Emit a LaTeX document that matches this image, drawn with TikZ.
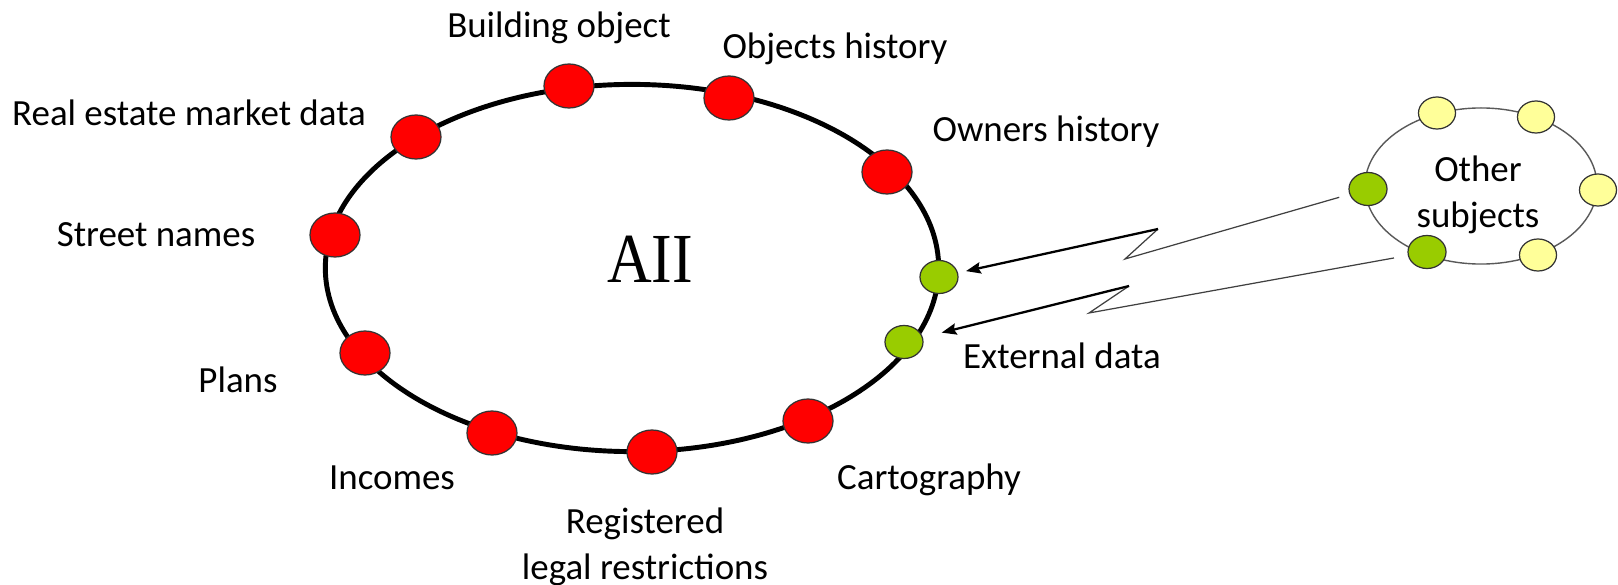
\documentclass[tikz,border=0pt]{standalone}
\usepackage{fontspec}
\setmainfont{Carlito}
\newfontfamily\titlefont{Liberation Serif}
\usetikzlibrary{shapes.geometric,arrows.meta}

\definecolor{dotred}{HTML}{FF0000}
\definecolor{dotgreen}{HTML}{99CC00}
\definecolor{dotyellow}{HTML}{FFFF99}

\begin{document}
\begin{tikzpicture}[x=0.01cm,y=-0.01cm,>={Stealth[length=4.2pt,width=3.2pt,inset=0.6pt]},
      font=\fontsize{10.5}{13.1}\selectfont,
      dot/.style={ellipse,draw=black!80,line width=0.35pt,inner sep=0pt,minimum width=0.5cm,minimum height=0.44cm},
      reddot/.style={dot,fill=dotred},
      greendot/.style={dot,fill=dotgreen,minimum width=0.38cm,minimum height=0.33cm},
      yellowdot/.style={dot,fill=dotyellow,minimum width=0.37cm,minimum height=0.32cm},
      lbl/.style={anchor=base,inner sep=0pt},
      wire/.style={line width=0.35pt,draw=black!75},
      bolt/.style={->,line width=0.65pt}]
			\useasboundingbox (0,0) rectangle (1618,585);
			% AII ring
			\node[ellipse,draw,line width=1.4pt,minimum width=6.13cm,minimum height=3.67cm] (ring) at (632,268) {};
			\node[font=\titlefont\fontsize{20}{24}\selectfont,anchor=base] (aii) at (650,282) {\scalebox{0.88}[1]{AII}};
			\node[reddot] (bo) at (569,86) {};
			\node[reddot] (oh) at (729,98) {};
			\node[reddot] (ow) at (887,172) {};
			\node[reddot] (re) at (416,137) {};
			\node[reddot] (sn) at (335,235) {};
			\node[reddot] (pl) at (365,353) {};
			\node[reddot] (in) at (492,433) {};
			\node[reddot] (rg) at (652,452) {};
			\node[reddot] (ca) at (808,421) {};
			\node[greendot] (eg1) at (939,277) {};
			\node[greendot] (eg2) at (904,342) {};
			% labels
			\node[lbl] (lbo) at (559,38) {Building object};
			\node[lbl] (loh) at (835,59) {Objects history};
			\node[lbl] (lre) at (189,126) {Real estate market data};
			\node[lbl] (low) at (1046,142) {Owners history};
			\node[lbl] (lsn) at (156,247) {Street names};
			\node[lbl] (lpl) at (238,392) {Plans};
			\node[lbl] (lex) at (1062,368) {External data};
			\node[lbl] (lin) at (392,489) {Incomes};
			\node[lbl] (lca) at (929,489) {Cartography};
			\node[align=center] (lrg) at (645,547) {Registered\\legal restrictions};
			% other subjects
			\node[ellipse,draw=black!65,line width=0.4pt,minimum width=2.32cm,minimum height=1.56cm] (oring) at (1481,186) {};
			\node[align=center] (los) at (1478,195) {Other\\subjects};
			\node[yellowdot] (oy1) at (1437,113) {};
			\node[yellowdot] (oy2) at (1536,117) {};
			\node[yellowdot] (oy3) at (1598,190) {};
			\node[yellowdot] (oy4) at (1538,255) {};
			\node[greendot] (og1) at (1368,189) {};
			\node[greendot] (og2) at (1427,252) {};
			% lightning links
			\coordinate (z1a) at (1125,259);
			\coordinate (z1b) at (1158,229);
			\coordinate (z2a) at (1089,313);
			\coordinate (z2b) at (1129,286);
			\draw[wire,shorten <=3pt] (og1) -- (z1a) -- (z1b);
			\draw[wire,shorten <=4pt] (og2) -- (z2a) -- (z2b);
			\path
				(z1b) edge[bolt,shorten >=2.3pt] (eg1)
				(z2b) edge[bolt,shorten >=5.5pt] (eg2);
		\end{tikzpicture}
\end{document}
